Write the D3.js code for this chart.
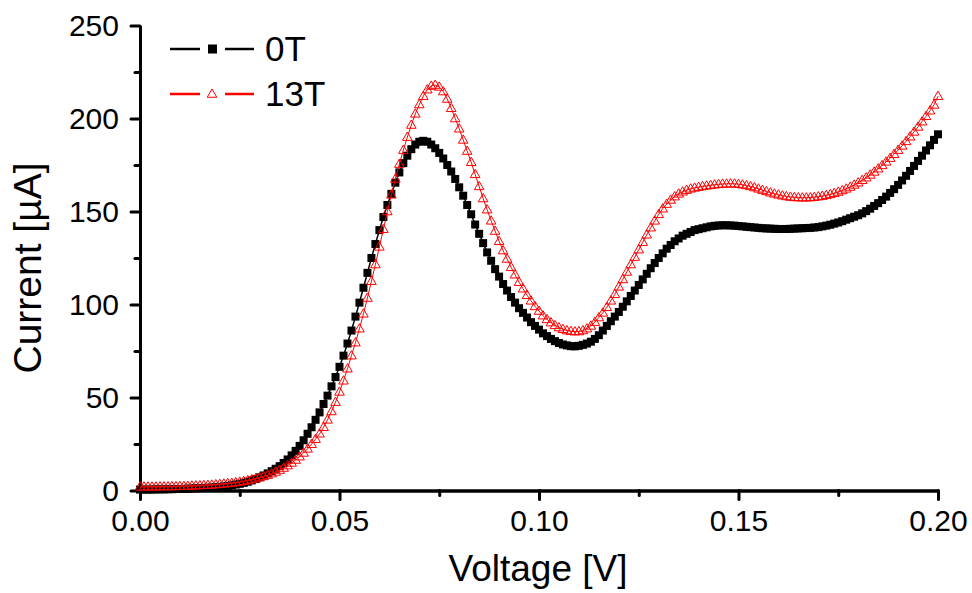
<!DOCTYPE html>
<meta charset="utf-8">
<title>Current vs Voltage</title>
<style>
body { margin: 0; background: #fff; }
svg text { font-family: "Liberation Sans", Arial, sans-serif; fill: #000; }
.tick text { font-size: 30px; }
</style>
<svg width="972" height="593"></svg>
<script src="https://d3js.org/d3.v7.min.js"></script>
<script>
// voltage steps, 0 to 0.2 V every 1 mV
var voltage = d3.range(201).map(function(i) { return i / 1000; });

// 0T, current in uA
var current0T = [
  0.5, 0.5, 0.5, 0.5, 0.6, 0.6, 0.6, 0.7, 0.7, 0.8,
  0.8, 0.9, 1.0, 1.1, 1.2, 1.3, 1.4, 1.5, 1.6, 1.8,
  2.0, 2.2, 2.5, 2.8, 3.2, 3.6, 4.1, 4.7, 5.4, 6.2,
  7.1, 8.1, 9.2, 10.4, 11.7, 13.1, 14.8, 16.7, 18.9, 21.3,
  24, 27, 30.5, 34, 38, 42, 46.5, 51, 56, 61,
  66.5, 72.5, 79, 86, 93.5, 101, 109, 117, 125, 132.5,
  140, 147, 153.5, 159.5, 165.5, 171, 176, 180, 183.5, 186,
  187.5, 188, 187.5, 186, 184, 181.5, 178.5, 175, 171.5, 167.5,
  163, 158.5, 153.5, 148.5, 143, 138, 133, 128, 123.5, 119,
  115, 111, 107.5, 104, 101, 98, 95.5, 93, 90.5, 88.5,
  86.5, 84.5, 83, 81.5, 80.3, 79.3, 78.5, 78, 77.6, 77.5,
  77.8, 78.3, 79, 80, 81.5, 83.5, 86, 88.5, 91, 93.5,
  96, 98.8, 101.7, 104.6, 107.5, 110.5, 113.5, 116.5, 119.5, 122.3,
  125, 127.5, 130, 132, 134, 135.5, 137, 138, 139, 140,
  140.5, 141, 141.5, 142, 142.3, 142.5, 142.6, 142.6, 142.5, 142.4,
  142.2, 142, 141.8, 141.6, 141.4, 141.2, 141, 140.9, 140.8, 140.7,
  140.6, 140.6, 140.6, 140.7, 140.8, 140.9, 141, 141.1, 141.2, 141.4,
  141.6, 142, 142.4, 142.9, 143.5, 144.1, 144.8, 145.6, 146.4, 147.2,
  148, 149, 150.2, 151.5, 153, 154.5, 156.2, 158, 160, 162,
  164.3, 166.7, 169.2, 171.8, 174.5, 177.2, 180, 182.8, 185.6, 188.5,
  191.5
];

// 13T, current in uA
var current13T = [
  2.0, 2.0, 2.0, 2.0, 2.0, 2.1, 2.1, 2.1, 2.2, 2.2,
  2.3, 2.3, 2.4, 2.5, 2.6, 2.7, 2.8, 2.9, 3.0, 3.2,
  3.4, 3.6, 3.8, 4.0, 4.3, 4.6, 5.0, 5.4, 5.9, 6.4,
  7.0, 7.6, 8.3, 9.1, 10, 11, 12.1, 13.4, 14.8, 16.4,
  18.2, 20.2, 22.4, 24.9, 27.6, 30.5, 34, 38, 42.5, 47.5,
  53, 59, 65.5, 72.5, 79.5, 87, 95, 103.5, 112.5, 121.5,
  131, 140.5, 150, 159, 167.5, 175.5, 183, 190, 196.5, 202.5,
  207.5, 212, 215.5, 217.5, 218, 217, 214.5, 210.5, 205.5, 200,
  194.5, 188.5, 182.5, 176.5, 170, 163.5, 157, 151, 145, 139.5,
  134, 129, 124.5, 120, 116, 112, 108.5, 105, 102, 99,
  96.5, 94, 92, 90.3, 88.8, 87.6, 86.7, 86, 85.6, 85.4,
  85.5, 86, 87, 88.5, 90.5, 93, 95.5, 98.5, 102, 105.5,
  109.5, 113.5, 117.5, 121.5, 125.5, 129.5, 133.5, 137.5, 141.3, 145,
  148.5, 151.5, 154, 156.2, 158, 159.5, 160.6, 161.5, 162.2, 162.7,
  163.1, 163.5, 163.8, 164.1, 164.4, 164.6, 164.8, 164.9, 165, 164.9,
  164.7, 164.4, 164, 163.5, 162.9, 162.2, 161.5, 160.8, 160.1, 159.5,
  159, 158.5, 158.1, 157.8, 157.6, 157.5, 157.4, 157.4, 157.5, 157.7,
  158, 158.3, 158.7, 159.2, 159.8, 160.5, 161.3, 162.2, 163.2, 164.3,
  165.5, 166.8, 168.2, 169.7, 171.3, 173, 174.8, 176.7, 178.7, 180.8,
  183, 185.3, 187.7, 190.2, 192.8, 195.5, 198.3, 201.2, 204.2, 207.3,
  212
];

var xTicks = [0, 0.05, 0.10, 0.15, 0.20];
var xMinor = [0.025, 0.075, 0.125, 0.175];
var yTicks = [0, 50, 100, 150, 200, 250];
var yMinor = [25, 75, 125, 175, 225];
var seriesNames = ["0T", "13T"];

var svg = d3.select("svg");
var x = d3.scaleLinear().domain([0, 0.2]).range([140, 938]);
var y = d3.scaleLinear().domain([0, 250]).range([490.5, 25.5]);

// axes
function styleAxis(g) {
  g.select(".domain").attr("stroke", "#000").attr("stroke-width", 3);
  g.selectAll(".tick line").attr("stroke", "#000").attr("stroke-width", 3)
    .attr("stroke-linecap", "round");
}

svg.append("g").attr("transform", "translate(0,490.5)")
  .call(d3.axisBottom(x).tickValues(xMinor).tickSize(5).tickFormat("").tickSizeOuter(0))
  .call(styleAxis);
svg.append("g").attr("transform", "translate(0,490.5)")
  .call(d3.axisBottom(x).tickValues(xTicks).tickSize(9).tickSizeOuter(0).tickPadding(10)
    .tickFormat(d3.format(".2f")))
  .call(styleAxis);

svg.append("g").attr("transform", "translate(140,0)")
  .call(d3.axisLeft(y).tickValues(yMinor).tickSize(5).tickFormat("").tickSizeOuter(0))
  .call(styleAxis);
svg.append("g").attr("transform", "translate(140,0)")
  .call(d3.axisLeft(y).tickValues(yTicks).tickSize(9).tickSizeOuter(0).tickPadding(12))
  .call(styleAxis);

svg.selectAll(".tick text").style("font-size", "30px");

svg.append("text")
  .attr("x", 538).attr("y", 581)
  .attr("text-anchor", "middle")
  .style("font-size", "37px")
  .text("Voltage [V]");

svg.append("text")
  .attr("transform", "translate(41,268) rotate(-90)")
  .attr("text-anchor", "middle")
  .style("font-size", "39px")
  .text("Current [µA]");

// data
var data0 = voltage.map(function(v, i) { return [v, current0T[i]]; });
var data13 = voltage.map(function(v, i) { return [v, current13T[i]]; });
var line = d3.line().x(function(d) { return x(d[0]); }).y(function(d) { return y(d[1]); });

svg.append("path").datum(data0)
  .attr("d", line).attr("fill", "none").attr("stroke", "#000").attr("stroke-width", 1.5);

svg.selectAll(".sq").data(data0).enter().append("rect")
  .attr("class", "sq")
  .attr("x", function(d) { return x(d[0]) - 4; })
  .attr("y", function(d) { return y(d[1]) - 4; })
  .attr("width", 8).attr("height", 8)
  .attr("fill", "#000");

svg.append("path").datum(data13)
  .attr("d", line).attr("fill", "none").attr("stroke", "#f00").attr("stroke-width", 1);

var tri = d3.symbol().type(d3.symbolTriangle).size(40);
svg.selectAll(".tri").data(data13).enter().append("path")
  .attr("class", "tri")
  .attr("transform", function(d) { return "translate(" + x(d[0]) + "," + (y(d[1]) + 0.5) + ")"; })
  .attr("d", tri)
  .attr("fill", "none")
  .attr("stroke", "#f00")
  .attr("stroke-width", 1);

// legend
var legend = svg.append("g");
[0, 1].forEach(function(i) {
  var ly = 49 + i * 45;
  var col = i === 0 ? "#000" : "#f00";
  legend.append("line").attr("x1", 170).attr("x2", 200).attr("y1", ly).attr("y2", ly)
    .attr("stroke", col).attr("stroke-width", 2.5);
  legend.append("line").attr("x1", 225).attr("x2", 254).attr("y1", ly).attr("y2", ly)
    .attr("stroke", col).attr("stroke-width", 2.5);
  if (i === 0) {
    legend.append("rect").attr("x", 208).attr("y", ly - 4.5).attr("width", 9).attr("height", 9)
      .attr("fill", "#000");
  } else {
    legend.append("path").attr("transform", "translate(212," + (ly + 0.5) + ")")
      .attr("d", tri).attr("fill", "none").attr("stroke", "#f00").attr("stroke-width", 1);
  }
  legend.append("text").attr("x", 265).attr("y", ly + 12)
    .style("font-size", "35px")
    .text(seriesNames[i]);
});
</script>
